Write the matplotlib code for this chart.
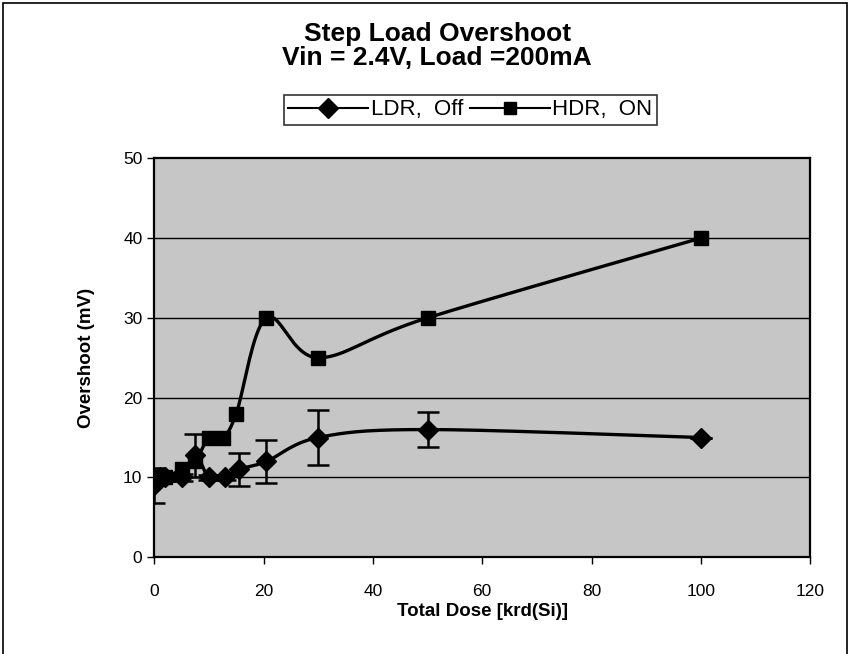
import numpy as np
import matplotlib.pyplot as plt
from matplotlib.patches import Rectangle

# LDR, Off series (diamonds, with error bars)
ldr_dose = [0, 1, 2, 5, 7.5, 10, 13, 15.5, 20.5, 30, 50, 100]
ldr_mv = [9, 10, 10, 10, 12.8, 10, 10, 11, 12, 15, 16, 15]
ldr_err = [2.2, 0.4, 0.4, 0.4, 2.7, 0.3, 0.3, 2.1, 2.7, 3.5, 2.2, 0]

# HDR, ON series (squares)
hdr_dose = [0, 1, 2, 5, 7.5, 10, 12.5, 15, 20.5, 30, 50, 100]
hdr_mv = [10, 10, 10, 11, 12, 15, 15, 18, 30, 25, 30, 40]

x_ticks = [0, 20, 40, 60, 80, 100, 120]
y_ticks = [0, 10, 20, 30, 40, 50]


def smooth(x, y, n=20):
    # excel style smoothed line (catmull-rom bezier)
    x = np.asarray(x, float)
    y = np.asarray(y, float)
    px, py = [x[0]], [y[0]]
    for i in range(len(x) - 1):
        i0, i3 = max(i - 1, 0), min(i + 2, len(x) - 1)
        c1x = x[i] + (x[i + 1] - x[i0]) / 6
        c1y = y[i] + (y[i + 1] - y[i0]) / 6
        c2x = x[i + 1] - (x[i3] - x[i]) / 6
        c2y = y[i + 1] - (y[i3] - y[i]) / 6
        t = np.linspace(0, 1, n)[1:]
        a, b, c, d = (1 - t) ** 3, 3 * t * (1 - t) ** 2, 3 * t ** 2 * (1 - t), t ** 3
        px.extend(a * x[i] + b * c1x + c * c2x + d * x[i + 1])
        py.extend(a * y[i] + b * c1y + c * c2y + d * y[i + 1])
    return px, py


plt.rcParams['font.family'] = ['Liberation Sans', 'DejaVu Sans']

fig = plt.figure(figsize=(8.52, 6.54), dpi=100)
ax = fig.add_axes([0.181, 0.148, 0.77, 0.61])
ax.set_facecolor('#c6c6c6')

for yv in y_ticks[1:-1]:
    ax.axhline(yv, color='black', lw=1.0, zorder=1)

sx, sy = smooth(ldr_dose, ldr_mv)
ax.plot(sx, sy, color='black', lw=2.4, zorder=3)
ax.errorbar(ldr_dose, ldr_mv, yerr=ldr_err, fmt='none', ecolor='black',
            elinewidth=1.8, capsize=8, capthick=1.8, zorder=3)
ax.plot(ldr_dose, ldr_mv, ls='none', marker='D', ms=10, color='black', zorder=4)

sx, sy = smooth(hdr_dose, hdr_mv)
ax.plot(sx, sy, color='black', lw=2.4, zorder=3)
ax.plot(hdr_dose, hdr_mv, ls='none', marker='s', ms=9.5, color='black', zorder=4)

# legend proxies
ax.plot([], [], color='black', lw=1.5, marker='D', ms=10, label='LDR,  Off')
ax.plot([], [], color='black', lw=1.5, marker='s', ms=8.5, label='HDR,  ON')
h, l = ax.get_legend_handles_labels()
leg = fig.legend(h[-2:], l[-2:], loc='center', bbox_to_anchor=(0.552, 0.832),
                 ncol=2, fontsize=16, frameon=True, fancybox=False,
                 edgecolor='black', handlelength=3.6, handletextpad=0.1,
                 columnspacing=0.3, borderpad=0.2)
leg.get_frame().set_linewidth(1.2)

ax.set_xlim(0, 120)
ax.set_ylim(0, 50)
ax.set_xticks(x_ticks)
ax.set_yticks(y_ticks)
ax.tick_params(direction='out', length=5, width=1, labelsize=12.5, colors='black')
ax.tick_params(axis='x', pad=14)
for s in ax.spines.values():
    s.set_linewidth(1.6)

ax.set_xlabel('Total Dose [krd(Si)]', fontsize=13.5, fontweight='bold', labelpad=3)
ax.set_ylabel('Overshoot (mV)', fontsize=13.5, fontweight='bold', labelpad=20)

fig.text(0.513, 0.93, 'Step Load Overshoot\nVin = 2.4V, Load =200mA',
         ha='center', va='center', fontsize=19, fontweight='bold', linespacing=1.0)

fig.patches.append(Rectangle((0.004, -0.05), 0.99, 1.045, transform=fig.transFigure,
                             fill=False, edgecolor='black', lw=1.2))

fig.savefig('out.png', dpi=100)
